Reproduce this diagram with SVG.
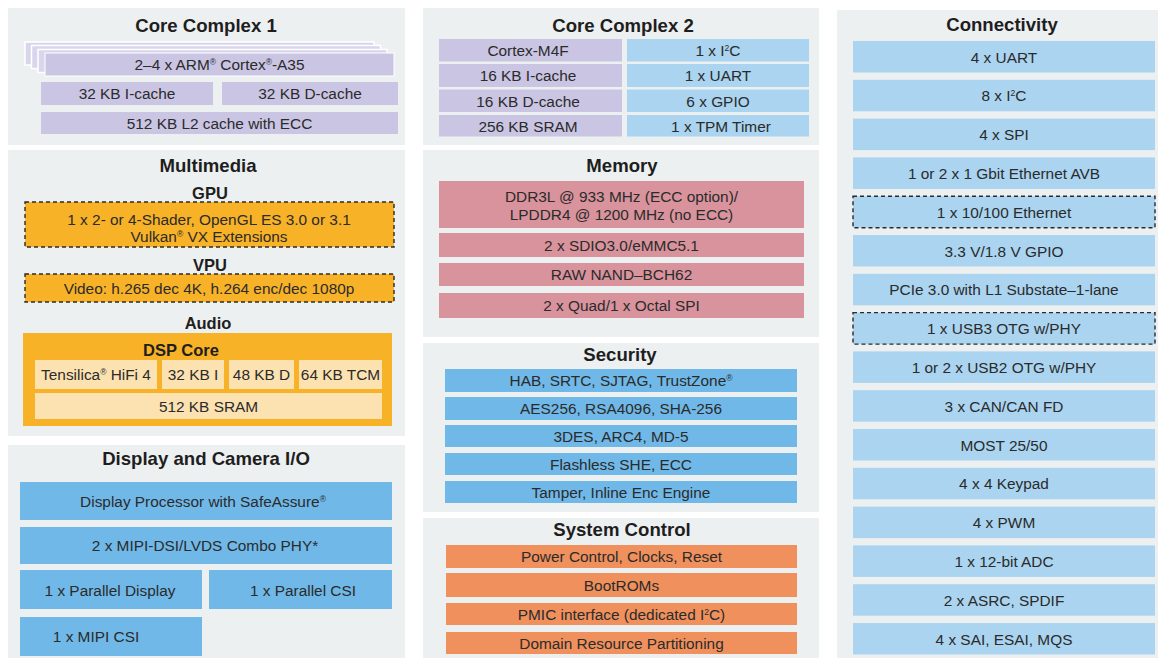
<svg xmlns="http://www.w3.org/2000/svg" width="1162" height="660" viewBox="0 0 1162 660">
<style>
.panel{fill:#edf0f1}
.lav{fill:#cac5e3}
.lavb{fill:#d8d5ec;stroke:#ffffff;stroke-width:1.5}
.lblue{fill:#aad4f0}
.blue{fill:#70b8e8}
.pink{fill:#d8939c}
.org{fill:#ef905d}
.gold{fill:#f8b228}
.pale{fill:#fce2b0}
.dash{stroke:#2a2a2a;stroke-width:1.4;stroke-dasharray:4 3}
text{font-family:"Liberation Sans",Arial,sans-serif;fill:#2b2b2b;text-anchor:middle}
.t{font-size:18.6px;font-weight:bold;fill:#1e1e1e}
.h{font-size:16.5px;font-weight:bold;fill:#1e1e1e}
.b{font-size:15.4px}
.sup{font-size:8.5px}
</style>
<rect width="1162" height="660" fill="#ffffff"/>

<g id="core-complex-1">
<rect class="panel" x="8" y="8" width="397" height="137"/>
<text class="t" x="206" y="31.5">Core Complex 1</text>
<rect class="lavb" x="25" y="42" width="349" height="23"/>
<rect class="lavb" x="31.5" y="45.5" width="349" height="23"/>
<rect class="lavb" x="38" y="49.5" width="349" height="23"/>
<rect class="lav" x="45" y="53" width="349" height="23" stroke="#ffffff" stroke-width="1"/>
<text class="b" x="219.5" y="70">2–4 x ARM<tspan class="sup" dy="-5">®</tspan><tspan dy="5"> Cortex</tspan><tspan class="sup" dy="-5">®</tspan><tspan dy="5">-A35</tspan></text>
<rect class="lav" x="41" y="82" width="172" height="23"/>
<text class="b" x="127" y="99">32 KB I-cache</text>
<rect class="lav" x="222" y="82" width="176" height="23"/>
<text class="b" x="310" y="99">32 KB D-cache</text>
<rect class="lav" x="41" y="112" width="357" height="22"/>
<text class="b" x="219.5" y="128.5">512 KB L2 cache with ECC</text>
</g>

<g id="multimedia">
<rect class="panel" x="8" y="150" width="397" height="286"/>
<text class="t" x="208" y="171.5">Multimedia</text>
<text class="h" x="210" y="199">GPU</text>
<rect class="gold dash" x="25" y="202" width="369" height="45"/>
<text class="b" x="209" y="224.5">1 x 2- or 4-Shader, OpenGL ES 3.0 or 3.1</text>
<text class="b" x="209" y="241.5">Vulkan<tspan class="sup" dy="-5">®</tspan><tspan dy="5"> VX Extensions</tspan></text>
<text class="h" x="210" y="271">VPU</text>
<rect class="gold dash" x="25" y="274" width="369" height="28"/>
<text class="b" x="209" y="293.5">Video: h.265 dec 4K, h.264 enc/dec 1080p</text>
<text class="h" x="208" y="329">Audio</text>
<rect class="gold" x="23" y="333" width="369" height="93"/>
<text class="h" x="181" y="356">DSP Core</text>
<rect class="pale" x="35" y="360" width="122" height="29"/>
<text class="b" x="96" y="380">Tensilica<tspan class="sup" dy="-5">®</tspan><tspan dy="5"> HiFi 4</tspan></text>
<rect class="pale" x="162" y="360" width="62" height="29"/>
<text class="b" x="193" y="380">32 KB I</text>
<rect class="pale" x="229" y="360" width="65" height="29"/>
<text class="b" x="261.5" y="380">48 KB D</text>
<rect class="pale" x="299" y="360" width="83" height="29"/>
<text class="b" x="340.5" y="380">64 KB TCM</text>
<rect class="pale" x="35" y="393" width="347" height="26"/>
<text class="b" x="208.5" y="411.5">512 KB SRAM</text>
</g>

<g id="display-camera-io">
<rect class="panel" x="8" y="445" width="397" height="213"/>
<text class="t" x="206" y="464.5">Display and Camera I/O</text>
<rect class="blue" x="20" y="482" width="372" height="38"/>
<text class="b" x="203" y="506.5">Display Processor with SafeAssure<tspan class="sup" dy="-5">®</tspan></text>
<rect class="blue" x="20" y="527" width="372" height="37"/>
<text class="b" x="205" y="551">2 x MIPI-DSI/LVDS Combo PHY*</text>
<rect class="blue" x="20" y="570" width="182" height="39"/>
<text class="b" x="110" y="595.5">1 x Parallel Display</text>
<rect class="blue" x="209" y="570" width="183" height="39"/>
<text class="b" x="303" y="595.5">1 x Parallel CSI</text>
<rect class="blue" x="20" y="617" width="182" height="39"/>
<text class="b" x="96" y="641.5">1 x MIPI CSI</text>
</g>

<g id="core-complex-2">
<rect class="panel" x="423" y="8" width="396" height="137"/>
<text class="t" x="623" y="31.5">Core Complex 2</text>
<rect class="lav" x="439" y="39" width="183" height="22.5"/>
<text class="b" x="528" y="55.5">Cortex-M4F</text>
<rect class="lblue" x="627" y="39" width="182" height="22.5"/>
<text class="b" x="718" y="55.5">1 x I<tspan class="sup" dy="-5">2</tspan><tspan dy="5">C</tspan></text>
<rect class="lav" x="439" y="64" width="183" height="23"/>
<text class="b" x="528" y="81">16 KB I-cache</text>
<rect class="lblue" x="627" y="64" width="182" height="23"/>
<text class="b" x="718" y="81">1 x UART</text>
<rect class="lav" x="439" y="89.5" width="183" height="22.5"/>
<text class="b" x="528" y="106.5">16 KB D-cache</text>
<rect class="lblue" x="627" y="89.5" width="182" height="22.5"/>
<text class="b" x="718" y="106.5">6 x GPIO</text>
<rect class="lav" x="439" y="115" width="183" height="21.5"/>
<text class="b" x="528" y="131.5">256 KB SRAM</text>
<rect class="lblue" x="627" y="115" width="182" height="21.5"/>
<text class="b" x="721" y="131.5">1 x TPM Timer</text>
</g>

<g id="memory">
<rect class="panel" x="423" y="150" width="396" height="187"/>
<text class="t" x="622" y="171.5">Memory</text>
<rect class="pink" x="439" y="181" width="365" height="47"/>
<text class="b" x="621.5" y="202">DDR3L @ 933 MHz (ECC option)/</text>
<text class="b" x="621.5" y="220">LPDDR4 @ 1200 MHz (no ECC)</text>
<rect class="pink" x="439" y="233" width="365" height="24"/>
<text class="b" x="621.5" y="250.5">2 x SDIO3.0/eMMC5.1</text>
<rect class="pink" x="439" y="263" width="365" height="23"/>
<text class="b" x="621.5" y="280">RAW NAND–BCH62</text>
<rect class="pink" x="439" y="293" width="365" height="25"/>
<text class="b" x="621.5" y="311">2 x Quad/1 x Octal SPI</text>
</g>

<g id="security">
<rect class="panel" x="423" y="343" width="396" height="169"/>
<text class="t" x="620" y="360.5">Security</text>
<rect class="blue" x="445" y="369" width="352" height="23"/>
<text class="b" x="621" y="386">HAB, SRTC, SJTAG, TrustZone<tspan class="sup" dy="-5">®</tspan></text>
<rect class="blue" x="445" y="397" width="352" height="23"/>
<text class="b" x="621" y="414">AES256, RSA4096, SHA-256</text>
<rect class="blue" x="445" y="425" width="352" height="22"/>
<text class="b" x="621" y="441.5">3DES, ARC4, MD-5</text>
<rect class="blue" x="445" y="453" width="352" height="22"/>
<text class="b" x="621" y="469.5">Flashless SHE, ECC</text>
<rect class="blue" x="445" y="481" width="352" height="22"/>
<text class="b" x="621" y="497.5">Tamper, Inline Enc Engine</text>
</g>

<g id="system-control">
<rect class="panel" x="423" y="518" width="396" height="140"/>
<text class="t" x="622" y="535.5">System Control</text>
<rect class="org" x="446" y="545" width="351" height="23"/>
<text class="b" x="621.5" y="562">Power Control, Clocks, Reset</text>
<rect class="org" x="446" y="573" width="351" height="24"/>
<text class="b" x="621.5" y="590.5">BootROMs</text>
<rect class="org" x="446" y="603" width="351" height="22"/>
<text class="b" x="621.5" y="619.5">PMIC interface (dedicated I<tspan class="sup" dy="-5">2</tspan><tspan dy="5">C)</tspan></text>
<rect class="org" x="446" y="632" width="351" height="22"/>
<text class="b" x="621.5" y="648.5">Domain Resource Partitioning</text>
</g>

<g id="connectivity">
<rect class="panel" x="837" y="10" width="321" height="648"/>
<text class="t" x="1002" y="30.5">Connectivity</text>
<rect class="lblue" x="853" y="41" width="302" height="31.5"/>
<text class="b" x="1004" y="62.5">4 x UART</text>
<rect class="lblue" x="853" y="79.8" width="302" height="31.5"/>
<text class="b" x="1004" y="101.3">8 x I<tspan class="sup" dy="-5">2</tspan><tspan dy="5">C</tspan></text>
<rect class="lblue" x="853" y="118.6" width="302" height="31.5"/>
<text class="b" x="1004" y="140.1">4 x SPI</text>
<rect class="lblue" x="853" y="157.4" width="302" height="31.5"/>
<text class="b" x="1004" y="178.9">1 or 2 x 1 Gbit Ethernet AVB</text>
<rect class="lblue dash" x="853" y="196.2" width="302" height="31.5"/>
<text class="b" x="1004" y="217.7">1 x 10/100 Ethernet</text>
<rect class="lblue" x="853" y="235" width="302" height="31.5"/>
<text class="b" x="1004" y="256.5">3.3 V/1.8 V GPIO</text>
<rect class="lblue" x="853" y="273.8" width="302" height="31.5"/>
<text class="b" x="1004" y="295.3">PCIe 3.0 with L1 Substate–1-lane</text>
<rect class="lblue dash" x="853" y="312.6" width="302" height="31.5"/>
<text class="b" x="1004" y="334.1">1 x USB3 OTG w/PHY</text>
<rect class="lblue" x="853" y="351.4" width="302" height="31.5"/>
<text class="b" x="1004" y="372.9">1 or 2 x USB2 OTG w/PHY</text>
<rect class="lblue" x="853" y="390.2" width="302" height="31.5"/>
<text class="b" x="1004" y="411.7">3 x CAN/CAN FD</text>
<rect class="lblue" x="853" y="429" width="302" height="31.5"/>
<text class="b" x="1004" y="450.5">MOST 25/50</text>
<rect class="lblue" x="853" y="467.8" width="302" height="31.5"/>
<text class="b" x="1004" y="489.3">4 x 4 Keypad</text>
<rect class="lblue" x="853" y="506.6" width="302" height="31.5"/>
<text class="b" x="1004" y="528.1">4 x PWM</text>
<rect class="lblue" x="853" y="545.4" width="302" height="31.5"/>
<text class="b" x="1004" y="566.9">1 x 12-bit ADC</text>
<rect class="lblue" x="853" y="584.2" width="302" height="31.5"/>
<text class="b" x="1004" y="605.7">2 x ASRC, SPDIF</text>
<rect class="lblue" x="853" y="623" width="302" height="31.5"/>
<text class="b" x="1004" y="644.5">4 x SAI, ESAI, MQS</text>
</g>

<g id="connectors"></g>
</svg>
